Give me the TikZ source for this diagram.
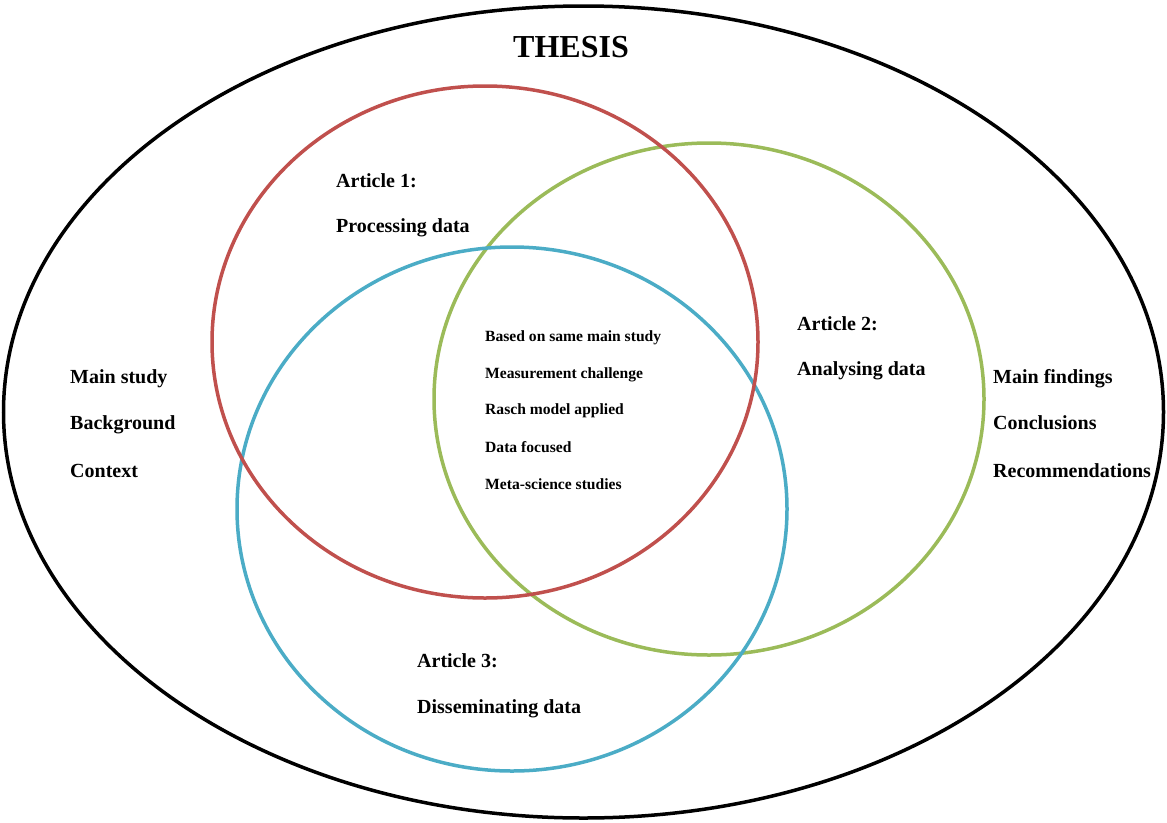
\documentclass[tikz,border=0pt]{standalone}
\usepackage{fontspec}
\setmainfont{Liberation Serif}
\definecolor{ored}{HTML}{C0504D}
\definecolor{ogreen}{HTML}{9BBB59}
\definecolor{oblue}{HTML}{4BACC6}
\begin{document}
\begin{tikzpicture}[x=1pt,y=-1pt,
  ring/.style={line width=3.5pt},
  lbl/.style={font=\fontsize{20}{24}\selectfont\bfseries, anchor=base west, inner sep=0pt},
  mid/.style={font=\fontsize{15.6}{18}\selectfont\bfseries, anchor=base west, inner sep=0pt},
  ttl/.style={font=\fontsize{32}{36}\selectfont\bfseries, anchor=base, inner sep=0pt}]
\useasboundingbox (0,0) rectangle (1167,822);
\draw[ring, black] (583.5,412) ellipse [x radius=580, y radius=406];
\draw[ring, ogreen] (709,399) ellipse [x radius=275, y radius=256];
\draw[ring, oblue] (512,509) ellipse [x radius=275, y radius=262];
\draw[ring, ored] (485,342) ellipse [x radius=273, y radius=256];

\node[ttl] (thesis) at (571,57) {THESIS};

\node[lbl] (a1) at (336,187) {Article 1:};
\node[lbl] (a1b) at (336,232) {Processing data};
\node[lbl] (a2) at (797,330) {Article 2:};
\node[lbl] (a2b) at (797,375) {Analysing data};
\node[lbl] (a3) at (417,667) {Article 3:};
\node[lbl] (a3b) at (417,713) {Disseminating data};

\node[lbl] (l1) at (70,383) {Main study};
\node[lbl] (l2) at (70,429) {Background};
\node[lbl] (l3) at (70,477) {Context};

\node[lbl] (r1) at (993,383) {Main findings};
\node[lbl] (r2) at (993,429) {Conclusions};
\node[lbl] (r3) at (993,477) {Recommendations};

\node[mid] (m1) at (485,341) {Based on same main study};
\node[mid] (m2) at (485,378) {Measurement challenge};
\node[mid] (m3) at (485,414) {Rasch model applied};
\node[mid] (m4) at (485,452) {Data focused};
\node[mid] (m5) at (485,489) {Meta-science studies};
\end{tikzpicture}
\end{document}
